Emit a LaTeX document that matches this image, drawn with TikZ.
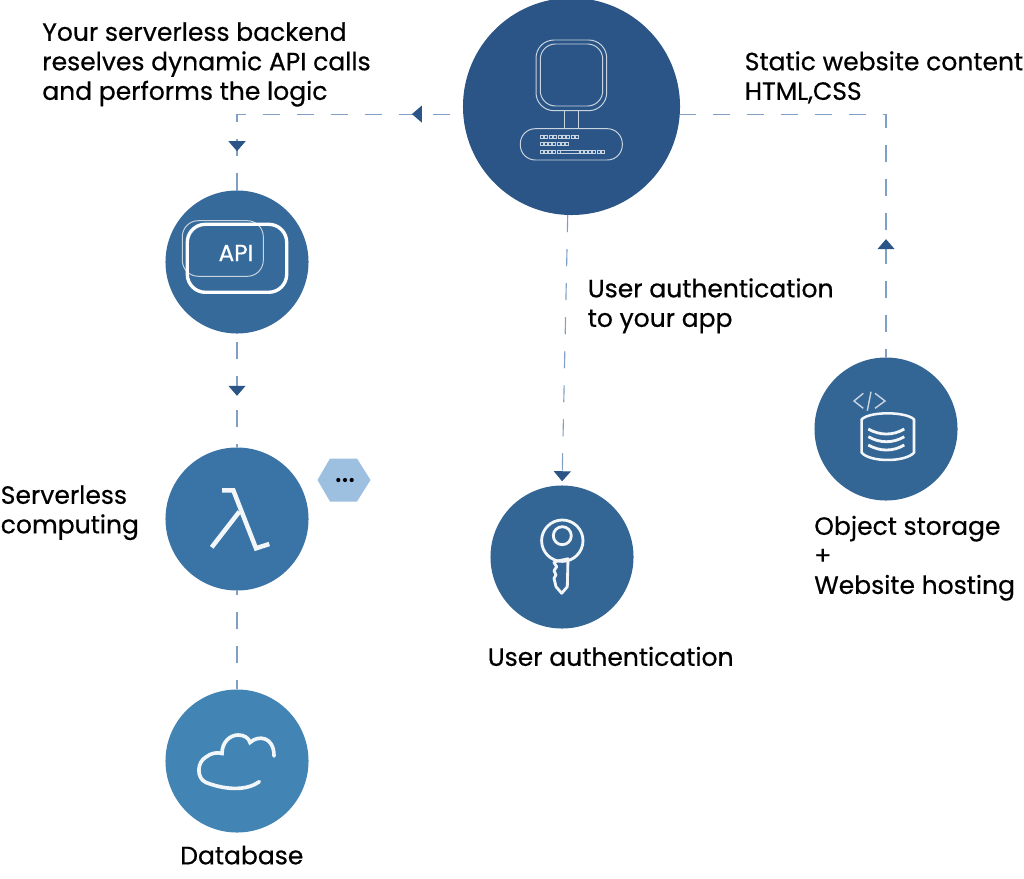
\documentclass[tikz,border=0pt]{standalone}
\usepackage{fontspec}
\setmainfont{Poppins}[RawFeature={embolden=0.5}]
\usetikzlibrary{arrows.meta, decorations.markings}

\definecolor{mainblue}{HTML}{2B5586}
\definecolor{midblue}{HTML}{366A9B}
\definecolor{lamblue}{HTML}{3A74A6}
\definecolor{dbblue}{HTML}{4285B5}
\definecolor{hexblue}{HTML}{9DBFE0}
\definecolor{dashblue}{HTML}{7FA0C4}
\definecolor{iconline}{HTML}{C9D4E1}

\begin{document}
\begin{tikzpicture}[
    x=0.025cm, y=-0.025cm, % Reference pixels
    % Styles
    service/.style={ % Small round service
        circle,
        inner sep=0pt,
        minimum size=3.575cm
    },
    mainnode/.style={ % Big round client
        service,
        minimum size=5.425cm,
        fill=mainblue
    },
    caption/.style={ % Black text
        inner sep=0pt,
        anchor=north west,
        align=left,
        font=\fontsize{17.8}{21}\selectfont
    },
    link/.style={ % Dashed connector
        draw=dashblue,
        line width=0.8pt,
        dash pattern=on 0.425cm off 0.425cm
    },
    tipat/.style={ % Arrow head part way along a connector
        postaction={
            decorate,
            decoration={
                markings,
                mark=at position #1 with {
                    \arrow[solid, mainblue]{Triangle[width=0.425cm, length=0.25cm]}
                }
            }
        }
    },
    thinline/.style={
        draw=iconline,
        line width=0.7pt
    },
    whiteline/.style={
        draw=white!94!midblue,
        line width=2pt
    },
    keycap/.style={
        thinline,
        line width=0.55pt
    }
]
    \useasboundingbox (0,0) rectangle (1024,879);

    % Circles
    \node [mainnode] (client) at (571.5,106.5) {};
    \node [service, fill=midblue] (api) at (237,262) {};
    \node [service, fill=lamblue] (lambda) at (237,519) {};
    \node [service, fill=dbblue] (db) at (237,761) {};
    \node [service, fill=midblue!96!black] (auth) at (562,557) {};
    \node [service, fill=midblue!96!black] (store) at (886,429) {};

    % Connectors
    \draw [link, dash phase=0.525cm, tipat=1.275cm, tipat=6.575cm] (client.184) -| (api);
    \draw [link, dash phase=0.6375cm, tipat=1.55cm] (api) -- (lambda);
    \draw [link, dash phase=0.3125cm] (lambda) -- (db);
    \draw [link, tipat=6.65cm] (client.-92) -- (auth.north);
    \draw [link, dash phase=0.2125cm, tipat=2.95cm] (store) |- (client.-4);

    % Computer icon
    \draw [thinline, rounded corners=0.45cm] (536,40) rectangle (606.7,110.7);
    \draw [thinline, rounded corners=0.38cm] (540.3,44) rectangle (602.7,106);
    \draw [thinline] (564.7,110.7) -- (564.7,128.7) (578.3,110.7) -- (578.3,128.7);
    \draw [thinline, rounded corners=0.375cm] (520.3,128.7) rectangle (622.3,160);
    \foreach \i in {0,...,8}
        \draw [keycap] (540.5+\i*4.35,135.2) rectangle ++(3,3);
    \foreach \i in {0,...,6}
        \draw [keycap] (540.5+\i*4.1,142.2) rectangle ++(3,3);
    \foreach \i in {0,...,4}
        \draw [keycap] (540.5+\i*4.1,150.2) rectangle ++(3,3);
    \draw [keycap] (560.3,150.2) rectangle (579,153.2);
    \foreach \i in {0,...,5}
        \draw [keycap] (580.5+\i*4.1,150.2) rectangle ++(3,3);

    % API icon
    \draw [draw=iconline, line width=0.7pt, rounded corners=0.4cm] (182.3,220.7) rectangle (263.3,276.3);
    \draw [draw=white, line width=2.4pt, rounded corners=0.45cm] (187.3,224.3) rectangle (286.7,292.3);
    \node [white, inner sep=0pt, font=\fontsize{16.5}{18}\selectfont] (apitext) at (236,253) {API};

    % Lambda icon
    \draw [whiteline, line width=3.2pt] (222,490.3) -- (233.3,490.3) -- (256,548.3) -- (269.3,544);
    \draw [whiteline, line width=3.2pt] (239.3,511.7) -- (211.7,547.3);

    % Badge beside lambda
    \fill [hexblue] (317.5,480) -- (330,458.5) -- (357,458.5) -- (370.5,480) -- (357,501.5) -- (330,501.5) -- cycle;
    \foreach \i in {338.3,345,351.7}
        \fill (\i,480) circle (2.1);

    % Cloud icon
    \draw [whiteline, line width=2.6pt, line cap=round]
        (259.3,781.7) .. controls (248,790) and (228,791) .. (206,782.5)
        .. controls (196,778) and (197,762) .. (206,757)
        .. controls (211,753) and (217,752) .. (222,753.5)
        .. controls (222,742) and (230,735) .. (238.3,735)
        .. controls (244,735) and (249,738) .. (250,742.5)
        .. controls (258,735) and (274,736) .. (274,756);

    % Key icon
    \draw [whiteline] (562.3,540.7) circle (20.7);
    \draw [whiteline] (562.3,535.7) circle (9);
    \draw [whiteline, line join=round] (554,562.7) -- (556.7,561.2) -- (568,558.8) -- (567.3,586.7) -- (561.7,593.3) -- (556,586.7)
        -- (554,578.3) -- (556,575) -- (554,570.7) -- (556.7,566.7) -- cycle;

    % Storage icon
    \draw [thinline, line width=1pt] (863.3,393.3) -- (854,401) -- (863.3,408.3);
    \draw [thinline, line width=1pt] (871,391.7) -- (867.3,410.7);
    \draw [thinline, line width=1pt] (875,393.3) -- (885,401) -- (875,408.3);
    \draw [whiteline, line width=1.8pt, line join=round] (861.7,419.3) .. controls (870,411.3) and (905,411.3) .. (914,419.3)
        -- (914,452.7) .. controls (905,462.4) and (870,462.4) .. (861.7,452.7) -- cycle;
    \foreach \j in {429,436.7,445}
        \draw [whiteline, line width=2pt] (868.3,\j) .. controls (880,\j+6.7) and (893,\j+6.7) .. (904.3,\j);

    % Labels
    \node [caption] (backendtext) at (42,22) {Your serverless backend\\reselves dynamic API calls\\and performs the logic};
    \node [caption] (statictext) at (744.5,51) {Static website content\\HTML,CSS};
    \node [caption] (logintext) at (587.5,278) {User authentication\\to your app};
    \node [caption] (computetext) at (0.5,485) {Serverless\\computing};
    \node [caption] (storetext) at (814,515.5) {Object storage\\+\\Website hosting};
    \node [caption] (authtext) at (487.5,646.5) {User authentication};
    \node [caption] (dbtext) at (180,845.5) {Database};
\end{tikzpicture}
\end{document}
